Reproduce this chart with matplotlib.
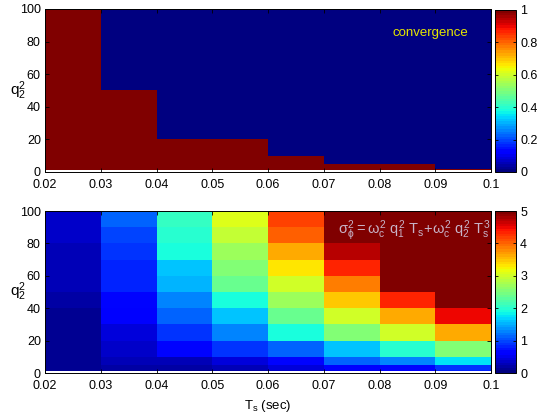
import numpy as np
import matplotlib
matplotlib.use("Agg")
import matplotlib.pyplot as plt

plt.rcParams['font.family'] = ['Liberation Sans', 'DejaVu Sans']
plt.rcParams['mathtext.fontset'] = 'custom'
plt.rcParams['mathtext.rm'] = 'Liberation Sans'
plt.rcParams['mathtext.it'] = 'Liberation Sans'
plt.rcParams['font.size'] = 9

# grid edges
ts_edges = [0.02, 0.03, 0.04, 0.05, 0.06, 0.07, 0.08, 0.09, 0.10]
q2_edges = [1, 2, 5, 10, 20, 30, 40, 50, 60, 70, 80, 90, 100]
ts_ticks = [0.02, 0.03, 0.04, 0.05, 0.06, 0.07, 0.08, 0.09, 0.1]
ts_labels = ['0.02', '0.03', '0.04', '0.05', '0.06', '0.07', '0.08', '0.09', '0.1']
q2_ticks = [0, 20, 40, 60, 80, 100]

# convergence flag per Ts column, rows from q2=1 up to q2=100
conv_002 = [1, 1, 1, 1, 1, 1, 1, 1, 1, 1, 1, 1]
conv_003 = [1, 1, 1, 1, 1, 1, 1, 0, 0, 0, 0, 0]
conv_004 = [1, 1, 1, 1, 0, 0, 0, 0, 0, 0, 0, 0]
conv_005 = [1, 1, 1, 1, 0, 0, 0, 0, 0, 0, 0, 0]
conv_006 = [1, 1, 1, 0, 0, 0, 0, 0, 0, 0, 0, 0]
conv_007 = [1, 1, 0, 0, 0, 0, 0, 0, 0, 0, 0, 0]
conv_008 = [1, 1, 0, 0, 0, 0, 0, 0, 0, 0, 0, 0]
conv_009 = [1, 0, 0, 0, 0, 0, 0, 0, 0, 0, 0, 0]

# phase variance per Ts column, rows from q2=1 up to q2=100
sig_002 = [0.08, 0.09, 0.10, 0.12, 0.14, 0.15, 0.16, 0.26, 0.28, 0.30, 0.32, 0.35]
sig_003 = [0.15, 0.18, 0.25, 0.35, 0.45, 0.55, 0.65, 0.80, 0.85, 0.90, 0.95, 1.10]
sig_004 = [0.15, 0.20, 0.30, 0.70, 0.90, 1.10, 1.25, 1.50, 1.60, 1.88, 1.98, 2.05]
sig_005 = [0.20, 0.30, 0.45, 0.90, 1.30, 1.60, 1.90, 2.35, 2.50, 2.70, 2.90, 3.12]
sig_006 = [0.35, 0.45, 0.65, 1.15, 1.95, 2.40, 2.70, 3.00, 3.30, 3.60, 4.00, 4.20]
sig_007 = [0.50, 0.60, 1.10, 1.60, 2.50, 3.00, 3.50, 3.90, 4.30, 4.70, 5.50, 6.00]
sig_008 = [0.60, 0.70, 1.30, 2.00, 3.00, 3.60, 4.30, 5.30, 5.70, 6.10, 6.50, 7.00]
sig_009 = [0.80, 0.90, 1.75, 2.50, 3.60, 4.50, 5.30, 5.80, 6.30, 6.80, 7.30, 7.80]

conv = np.array([conv_002, conv_003, conv_004, conv_005,
                 conv_006, conv_007, conv_008, conv_009]).T
sig = np.array([sig_002, sig_003, sig_004, sig_005,
                sig_006, sig_007, sig_008, sig_009]).T

cmap = plt.get_cmap('jet', 64)

fig = plt.figure(figsize=(5.38, 4.2), dpi=100)
W, H = 538.0, 420.0

def style(ax):
    ax.set_xlim(0.02, 0.1)
    ax.set_ylim(0, 100)
    ax.set_xticks(ts_ticks)
    ax.set_xticklabels(ts_labels)
    ax.set_yticks(q2_ticks)
    ax.tick_params(direction='in', length=3, top=True, right=True,
                   width=0.6)
    ax.tick_params(axis='x', pad=5)
    ax.tick_params(axis='y', pad=3)
    for s in ax.spines.values():
        s.set_linewidth(0.7)
    ax.set_ylabel(r'q$_2^2$', rotation=0, labelpad=1, va='center', fontsize=11)

def style_cb(cb, ticks):
    cb.set_ticks(ticks)
    cb.ax.tick_params(direction='in', length=2.5, width=0.6, pad=3,
                      left=True, right=True, labelsize=9)
    cb.outline.set_linewidth(0.7)

# top: convergence map
ax1 = fig.add_axes([45 / W, (H - 172) / H, 446 / W, 163 / H])
m1 = ax1.pcolormesh(ts_edges, q2_edges, conv, cmap=cmap, vmin=0, vmax=1)
style(ax1)
ax1.text(0.0891, 85, 'convergence', color='#e6e600', fontsize=9.5,
         ha='center', va='center')
cax1 = fig.add_axes([495 / W, (H - 172) / H, 21 / W, 162 / H])
cb1 = fig.colorbar(m1, cax=cax1)
style_cb(cb1, [0, 0.2, 0.4, 0.6, 0.8, 1])
cb1.set_ticklabels(['0', '0.2', '0.4', '0.6', '0.8', '1'])

# bottom: phase variance map
ax2 = fig.add_axes([45 / W, (H - 373) / H, 446 / W, 162 / H])
m2 = ax2.pcolormesh(ts_edges, q2_edges, sig, cmap=cmap, vmin=0, vmax=5)
style(ax2)
ax2.set_xlabel(r'T$_s$ (sec)', fontsize=9.5, labelpad=4)
ax2.text(0.0862, 88, r'$\sigma_\phi^2 = \omega_c^2\ q_1^2\ T_s\!+\!\omega_c^2\ q_2^2\ T_s^3$',
         color='#c8b4c8', fontsize=10.5, ha='center', va='center')
cax2 = fig.add_axes([495 / W, (H - 373) / H, 21 / W, 162 / H])
cb2 = fig.colorbar(m2, cax=cax2)
style_cb(cb2, [0, 1, 2, 3, 4, 5])

fig.savefig('out.png', dpi=100)
